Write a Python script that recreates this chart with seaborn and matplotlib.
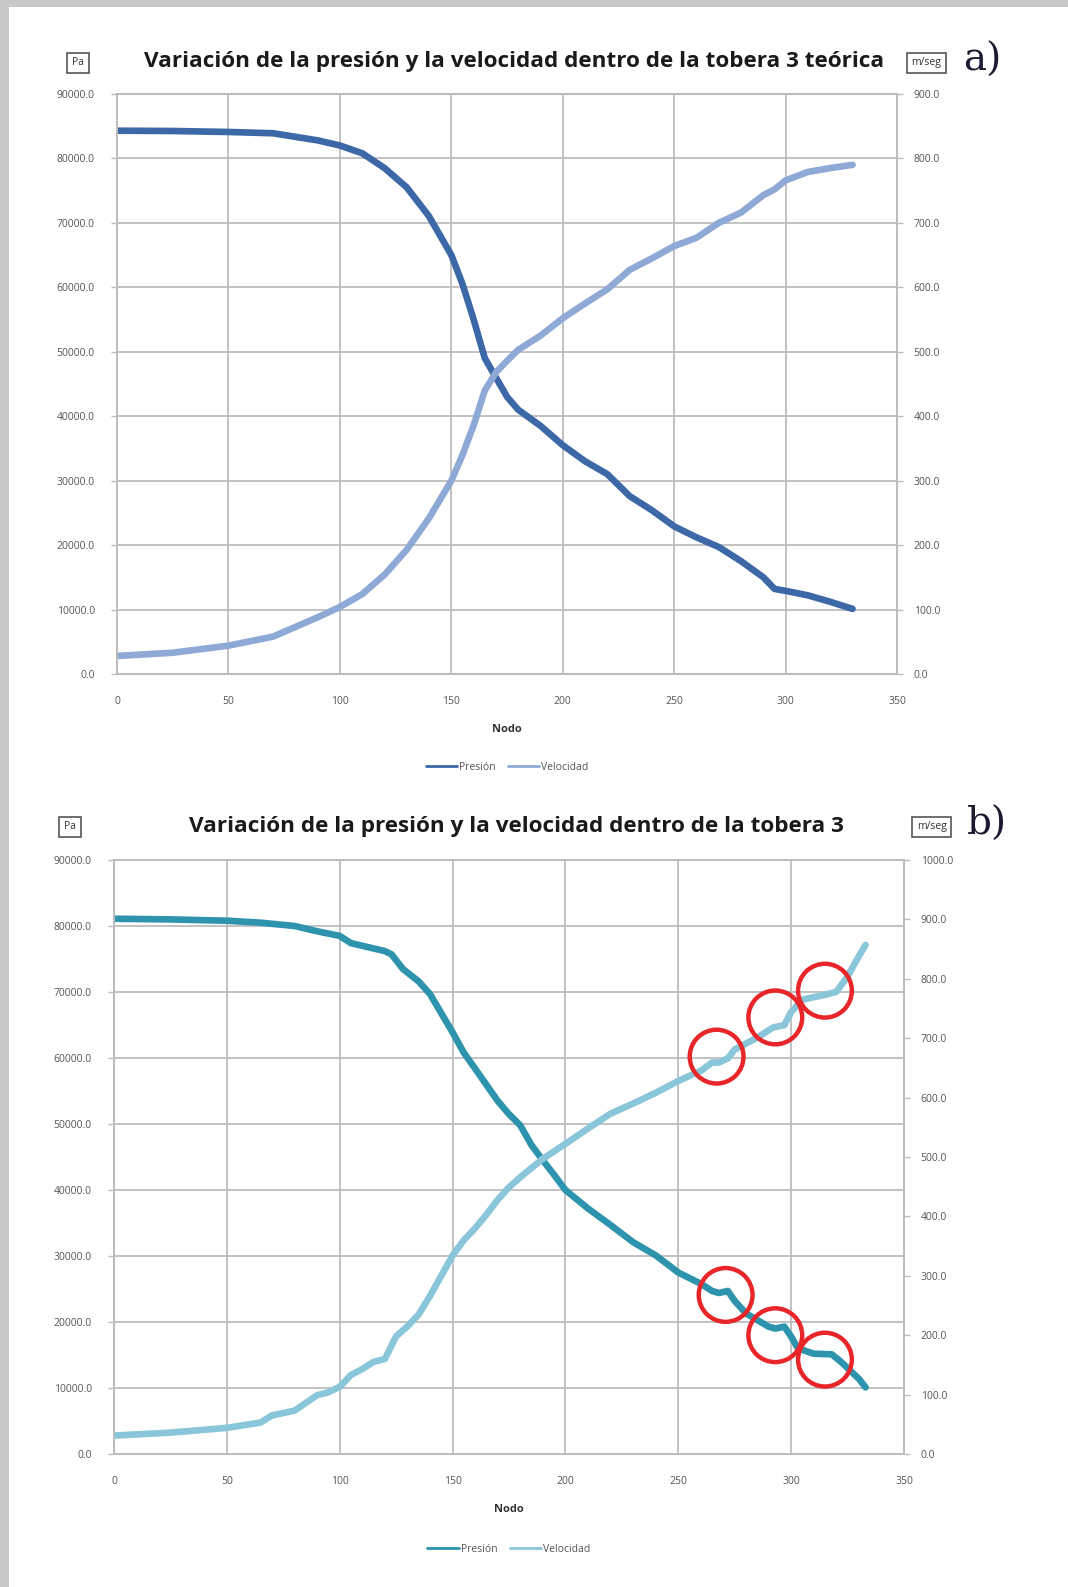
import matplotlib
matplotlib.use("Agg")
import matplotlib.pyplot as plt
import seaborn as sns
import pandas as pd
from matplotlib.patches import Rectangle

# ---- data ----
# panel a) tobera 3 teorica
nodo_a = [0, 25, 50, 70, 90, 100, 110, 120, 130, 140, 150, 155, 160, 165, 170, 175, 180,
          190, 200, 210, 220, 230, 240, 250, 260, 270, 280, 290, 295, 300, 310, 320, 330]
presion_a = [84300, 84250, 84100, 83900, 82800, 82000, 80800, 78500, 75500, 71000, 65000,
             60500, 55000, 49000, 46000, 43000, 41000, 38500, 35500, 33000, 31000, 27600,
             25400, 22900, 21200, 19700, 17500, 15000, 13200, 12900, 12200, 11200, 10100]
nodo_av = [0, 25, 50, 70, 90, 100, 110, 120, 130, 140, 150, 155, 160, 165, 170, 175, 180,
           190, 200, 210, 220, 230, 240, 250, 260, 270, 280, 290, 295, 300, 310, 320, 330]
velocidad_a = [28, 33, 44, 58, 88, 104, 124, 154, 193, 242, 300, 340, 386, 440, 468, 486, 503,
               525, 552, 575, 597, 627, 645, 664, 677, 700, 716, 743, 752, 766, 779, 785, 790]

# panel b) tobera 3
nodo_b = [0, 25, 50, 65, 80, 90, 100, 105, 115, 120, 123, 128, 135, 140, 150, 155, 160, 170,
          175, 180, 185, 190, 195, 200, 205, 210, 220, 230, 240, 250, 260, 265, 268, 272, 275, 280,
          290, 293, 297, 300, 303, 310, 318, 322, 330, 333]
presion_b = [81100, 81000, 80800, 80500, 80000, 79200, 78500, 77400, 76600, 76200, 75700,
             73500, 71600, 69700, 63900, 60800, 58400, 53500, 51500, 49800, 46800, 44500,
             42300, 40000, 38600, 37200, 34700, 32100, 30100, 27500, 25800, 24700, 24400,
             24700, 23200, 21300, 19300, 19000, 19300, 17800, 16000, 15200, 15100, 14000,
             11400, 10100]
nodo_bv = [0, 25, 50, 65, 70, 80, 90, 95, 100, 105, 110, 115, 120, 125, 130, 135, 140, 150,
           155, 160, 165, 170, 175, 180, 190, 200, 210, 220, 230, 240, 250, 260, 265, 268,
           272, 275, 285, 292, 297, 300, 305, 315, 320, 325, 330, 333]
velocidad_b = [31, 36, 44, 53, 65, 73, 99, 104, 113, 133, 143, 155, 160, 198, 215, 235, 266,
               334, 360, 380, 403, 428, 449, 466, 497, 522, 548, 573, 590, 608, 628, 645, 659,
               659, 666, 681, 701, 718, 722, 744, 765, 773, 778, 804, 838, 857]

# red circles marking the oscillations (panel b)
circ_x_v = [267, 293, 315]
circ_v = [669, 735, 780]
circ_x_p = [271, 293, 315]
circ_p = [24100, 18000, 14300]

titulos = ["Variación de la presión y la velocidad dentro de la tobera 3 teórica",
           "Variación de la presión y la velocidad dentro de la tobera 3"]
etiquetas = ["a)", "b)"]

sns.set_theme(style="white")
plt.rcParams['font.family'] = ['Open Sans', 'DejaVu Sans']

fig = plt.figure(figsize=(10.68, 15.87), dpi=100)
fig.patch.set_facecolor("white")

# grey shadow frame of the original screenshot
fig.add_artist(Rectangle((0, 0), 9 / 1068, 1, transform=fig.transFigure, color="#c8c8c8", lw=0))
fig.add_artist(Rectangle((0, 1 - 7 / 1587), 1, 7 / 1587, transform=fig.transFigure, color="#c8c8c8", lw=0))

grey = "#bdbdbd"
tick_c = "#555555"


def panel(rect, nx, p, nxv, v, vmax, c_p, c_v, title, label, title_x, pa_x, ms_x, lab_x, title_y):
    ax = fig.add_axes(rect)
    dfp = pd.DataFrame({"Nodo": nx, "Presión": p})
    dfv = pd.DataFrame({"Nodo": nxv, "Velocidad": v})
    sns.lineplot(data=dfp, x="Nodo", y="Presión", ax=ax, color=c_p, lw=4.8, label="Presión",
                 legend=False, solid_capstyle="round", solid_joinstyle="round")
    ax2 = ax.twinx()
    sns.lineplot(data=dfv, x="Nodo", y="Velocidad", ax=ax2, color=c_v, lw=4.8, label="Velocidad",
                 legend=False, solid_capstyle="round", solid_joinstyle="round")
    ax.set_xlim(0, 350)
    ax.set_ylim(0, 90000)
    ax2.set_ylim(0, vmax)
    ax.set_xticks(range(0, 351, 50))
    ax.set_yticks(range(0, 90001, 10000))
    ax2.set_yticks(range(0, vmax + 1, 100))
    ax.set_yticklabels([f"{t:.1f}" for t in range(0, 90001, 10000)])
    ax2.set_yticklabels([f"{t:.1f}" for t in range(0, vmax + 1, 100)])
    ax.grid(True, color=grey, lw=1.3)
    ax.set_axisbelow(True)
    for a in (ax, ax2):
        for s in a.spines.values():
            s.set_color(grey)
            s.set_linewidth(1.3)
        a.tick_params(labelsize=7.5, colors=tick_c, length=4, width=1, direction="out")
        a.tick_params(axis="both", color=grey)
    ax2.set_ylabel("")
    ax.set_ylabel("")
    ax.set_xlabel("Nodo", fontsize=8, fontweight="bold", color="#333333", labelpad=12)
    ax.tick_params(axis="x", pad=12)
    ax.tick_params(axis="y", pad=12)
    ax2.tick_params(axis="y", pad=8)
    h1, l1 = ax.get_legend_handles_labels()
    h2, l2 = ax2.get_legend_handles_labels()
    leg = ax.legend(h1 + h2, l1 + l2, loc="upper center", bbox_to_anchor=(0.5, -0.135), ncol=2,
                    frameon=False, fontsize=7.5, handlelength=3, columnspacing=1.2, handletextpad=0.2)
    for t in leg.get_texts():
        t.set_color("#555555")
    for lh in leg.get_lines():
        lh.set_linewidth(2)
    fig.text(title_x, title_y, title, ha="center", va="center", fontsize=16.2, fontweight="bold",
             color="#1a1a1a")
    fig.text(pa_x, title_y - 0.0005, "Pa", ha="center", va="center", fontsize=7.5, color="#333333",
             bbox=dict(boxstyle="square,pad=0.45", fc="white", ec="#555555", lw=1.2))
    fig.text(ms_x, title_y - 0.0005, "m/seg", ha="center", va="center", fontsize=7.5, color="#333333",
             bbox=dict(boxstyle="square,pad=0.45", fc="white", ec="#555555", lw=1.2))
    fig.text(lab_x, title_y + 0.001, label, ha="center", va="center", fontsize=28,
             family="DejaVu Serif", color="#1a1a30")
    return ax, ax2


ax_a, ax_a2 = panel([0.1096, 0.5753, 0.7304, 0.3655], nodo_a, presion_a, nodo_av, velocidad_a, 900,
                    "#3d68a8", "#8fa9d6", titulos[0], etiquetas[0],
                    0.4816, 0.0730, 0.8675, 0.9197, 1 - 62 / 1587)
ax_b, ax_b2 = panel([0.1067, 0.0838, 0.7397, 0.3743], nodo_b, presion_b, nodo_bv, velocidad_b, 1000,
                    "#2e93ad", "#8ac6da", titulos[1], etiquetas[1],
                    0.4836, 0.0655, 0.8725, 0.9245, 1 - 826 / 1587)

# red circles
ax_b2.scatter(circ_x_v, circ_v, s=1500, facecolors="none", edgecolors="#e8262a", linewidths=3.2, zorder=5)
ax_b.scatter(circ_x_p, circ_p, s=1500, facecolors="none", edgecolors="#e8262a", linewidths=3.2, zorder=5)

fig.savefig("out.png", dpi=100, facecolor="white")
